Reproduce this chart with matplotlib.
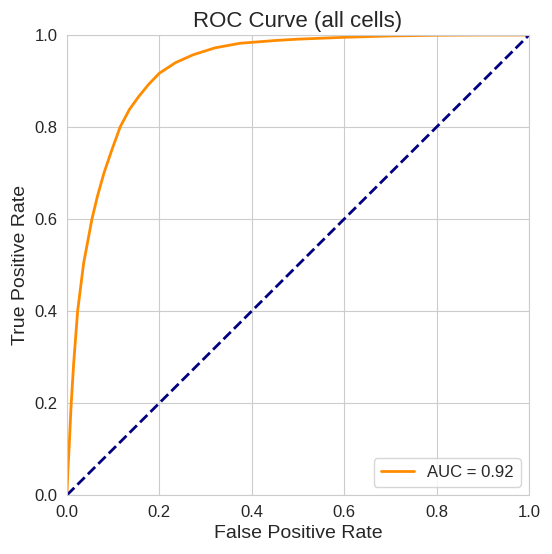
import numpy as np
import matplotlib
matplotlib.use('Agg')
import matplotlib.pyplot as plt
import seaborn as sns

# ROC points
fpr = [0.0, 0.0005, 0.002, 0.005, 0.0086, 0.0144, 0.023, 0.036, 0.054, 0.066,
       0.08, 0.097, 0.115, 0.135, 0.155, 0.177, 0.2, 0.235, 0.273, 0.32, 0.374,
       0.45, 0.5, 0.6, 0.7, 0.8, 0.9, 1.0]
tpr = [0.0, 0.02, 0.055, 0.112, 0.19, 0.286, 0.4, 0.504, 0.6, 0.65,
       0.70, 0.75, 0.8, 0.838, 0.866, 0.893, 0.917, 0.94, 0.957, 0.972, 0.982,
       0.988, 0.991, 0.995, 0.998, 0.9995, 1.0, 1.0]
auc_val = 0.92

sns.set_style('whitegrid')
plt.rcParams['font.family'] = ['Liberation Sans', 'DejaVu Sans']

fig = plt.figure(figsize=(5.52, 5.54), dpi=100)
ax = fig.add_axes([0.1214, 0.1065, 0.8369, 0.8303])

ax.plot(fpr, tpr, color='darkorange', lw=2, label='AUC = %.2f' % auc_val)
ax.plot([0, 1], [0, 1], color='navy', lw=2, ls='--')

ax.set_xlim(0, 1)
ax.set_ylim(0, 1)
ax.set_xlabel('False Positive Rate', fontsize=14)
ax.set_ylabel('True Positive Rate', fontsize=14)
ax.set_title('ROC Curve (all cells)', fontsize=16)
ax.tick_params(labelsize=12)
ax.legend(loc='lower right', fontsize=12)

fig.savefig('out.png', dpi=100)
plt.close(fig)
